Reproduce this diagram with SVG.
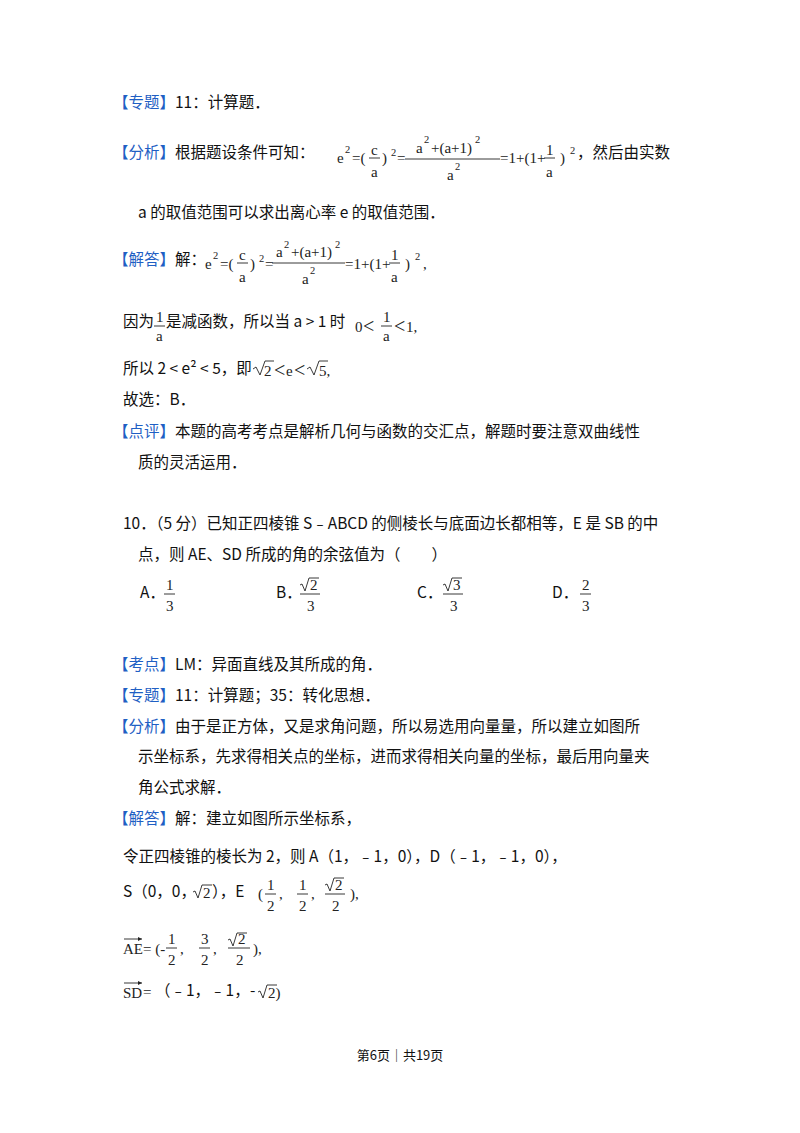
<svg xmlns="http://www.w3.org/2000/svg" width="800" height="1133" viewBox="0 0 800 1133">
<style>
text{font-family:"Noto Sans CJK SC","Noto Sans",sans-serif;font-size:15.5px;fill:#111}
.b{fill:#1f5fc4}
.m{font-family:"Liberation Serif",serif;font-size:15px;fill:#222}
.ml{font-family:"Liberation Serif",serif;font-size:20px;fill:#222}
.ms{font-family:"Liberation Serif",serif;font-size:10.5px;fill:#222}
.f{font-size:13px}
line{stroke:#222;stroke-width:0.9}
</style>
<rect width="800" height="1133" fill="#fff"/>
<text x="113" y="108"><tspan class="b">【专题】</tspan>11：计算题．</text>
<text x="113" y="158"><tspan class="b">【分析】</tspan>根据题设条件可知：</text>
<g>
<text class="m" x="337" y="163">e</text><text class="ms" x="345" y="153">2</text><text class="m" x="352" y="163">=(</text>
<text class="m" x="371" y="155">c</text><line x1="369" y1="158" x2="380" y2="158"/><text class="m" x="371" y="177">a</text>
<text class="m" x="382" y="163">)</text><text class="ms" x="391" y="156">2</text><text class="m" x="397" y="163">=</text>
<text class="m" x="416" y="153">a</text><text class="ms" x="424" y="143">2</text><text class="m" x="431" y="153">+(a+1)</text><text class="ms" x="475" y="143">2</text>
<line x1="405" y1="159" x2="500" y2="159"/>
<text class="m" x="447" y="180">a</text><text class="ms" x="455" y="170">2</text>
<text class="m" x="500" y="163">=1+(1+</text>
<text class="m" x="546" y="155">1</text><line x1="544" y1="158" x2="555" y2="158"/><text class="m" x="546" y="177">a</text>
<text class="m" x="560" y="163">)</text><text class="ms" x="570" y="154">2</text>
</g>
<text x="577" y="158">，然后由实数</text>
<text x="138" y="218">a 的取值范围可以求出离心率 e 的取值范围．</text>
<text x="113" y="265"><tspan class="b">【解答】</tspan>解：</text>
<g>
<text class="m" x="205" y="269">e</text><text class="ms" x="213" y="259">2</text><text class="m" x="220" y="269">=(</text>
<text class="m" x="239" y="260">c</text><line x1="237" y1="263" x2="248" y2="263"/><text class="m" x="239" y="282">a</text>
<text class="m" x="250" y="269">)</text><text class="ms" x="259" y="262">2</text><text class="m" x="265" y="269">=</text>
<text class="m" x="276" y="257">a</text><text class="ms" x="284" y="248">2</text><text class="m" x="291" y="257">+(a+1)</text><text class="ms" x="335" y="248">2</text>
<line x1="272" y1="263" x2="345" y2="263"/>
<text class="m" x="302" y="284">a</text><text class="ms" x="310" y="274">2</text>
<text class="m" x="345" y="269">=1+(1+</text>
<text class="m" x="391" y="260">1</text><line x1="389" y1="263" x2="400" y2="263"/><text class="m" x="391" y="282">a</text>
<text class="m" x="405" y="269">)</text><text class="ms" x="415" y="260">2</text>
<text class="m" x="423" y="269">,</text>
</g>
<text x="123" y="327">因为</text>
<text class="m" x="156" y="322">1</text><line x1="154" y1="326" x2="165" y2="326"/><text class="m" x="156" y="341">a</text>
<text x="166" y="327">是减函数，所以当 a &gt; 1 时</text>
<text class="m" x="355" y="332">0</text><text class="ml" x="363" y="333">&lt;</text>
<text class="m" x="383" y="322">1</text><line x1="381" y1="326" x2="392" y2="326"/><text class="m" x="383" y="341">a</text>
<text class="ml" x="394" y="333">&lt;</text><text class="m" x="406" y="332">1,</text>
<text x="123" y="374">所以 2 &lt; e² &lt; 5，即</text>
<g fill="none" stroke="#222" stroke-width="0.9"><path d="M253,369 l3,-2 l4,8 l5,-14 h9"/><path d="M307,369 l3,-2 l4,8 l5,-14 h9"/></g>
<text class="m" x="264" y="376">2</text><text class="ml" x="274" y="377">&lt;</text><text class="m" x="286" y="376">e</text><text class="ml" x="294" y="377">&lt;</text><text class="m" x="319" y="376">5,</text>
<text x="123" y="405">故选：B．</text>
<text x="113" y="437"><tspan class="b">【点评】</tspan>本题的高考考点是解析几何与函数的交汇点，解题时要注意双曲线性</text>
<text x="138" y="468">质的灵活运用．</text>
<text x="123" y="529">10．（5 分）已知正四棱锥 S﹣ABCD 的侧棱长与底面边长都相等，E 是 SB 的中</text>
<text x="138" y="560">点，则 AE、SD 所成的角的余弦值为（　　）</text>
<text x="140" y="598">A．</text>
<text class="m" x="166" y="590">1</text><line x1="164" y1="594" x2="175" y2="594"/><text class="m" x="166" y="611">3</text>
<text x="276" y="598">B．</text>
<path d="M300,585 l2,-1 l3,7 l4,-13 h10" fill="none" stroke="#222" stroke-width="0.9"/>
<text class="m" x="310" y="590">2</text><line x1="300" y1="594" x2="320" y2="594"/><text class="m" x="307" y="611">3</text>
<text x="417" y="598">C．</text>
<path d="M443,585 l2,-1 l3,7 l4,-13 h10" fill="none" stroke="#222" stroke-width="0.9"/>
<text class="m" x="453" y="590">3</text><line x1="443" y1="594" x2="463" y2="594"/><text class="m" x="450" y="611">3</text>
<text x="552" y="598">D．</text>
<text class="m" x="582" y="590">2</text><line x1="580" y1="594" x2="591" y2="594"/><text class="m" x="582" y="611">3</text>
<text x="113" y="670"><tspan class="b">【考点】</tspan>LM：异面直线及其所成的角．</text>
<text x="113" y="701"><tspan class="b">【专题】</tspan>11：计算题；35：转化思想．</text>
<text x="113" y="732"><tspan class="b">【分析】</tspan>由于是正方体，又是求角问题，所以易选用向量量，所以建立如图所</text>
<text x="138" y="762">示坐标系，先求得相关点的坐标，进而求得相关向量的坐标，最后用向量夹</text>
<text x="138" y="793">角公式求解．</text>
<text x="113" y="824"><tspan class="b">【解答】</tspan>解：建立如图所示坐标系，</text>
<text x="123" y="862">令正四棱锥的棱长为 2，则 A（1，﹣1，0），D（﹣1，﹣1，0），</text>
<text x="123" y="897">S（0，0，</text>
<path d="M193,892 l2,-1 l3,7 l4,-13 h10" fill="none" stroke="#222" stroke-width="0.9"/>
<text class="m" x="203" y="898">2</text><text x="212" y="897">），E</text>
<text class="m" x="258" y="899">(</text>
<text class="m" x="267" y="890">1</text><line x1="265" y1="894" x2="276" y2="894"/><text class="m" x="267" y="911">2</text>
<text class="m" x="279" y="899">,</text>
<text class="m" x="299" y="890">1</text><line x1="297" y1="894" x2="308" y2="894"/><text class="m" x="299" y="911">2</text>
<text class="m" x="311" y="899">,</text>
<path d="M325,885 l2,-1 l3,7 l4,-13 h10" fill="none" stroke="#222" stroke-width="0.9"/>
<text class="m" x="335" y="890">2</text><line x1="325" y1="894" x2="345" y2="894"/><text class="m" x="332" y="911">2</text>
<text class="m" x="350" y="899">),</text>
<text class="m" x="123" y="954">AE</text>
<path d="M124,939 h18" stroke="#222" stroke-width="0.9"/><path d="M142,939 l-4,-2 v4z" fill="#222"/>
<text class="m" x="143" y="954">= (-</text>
<text class="m" x="168" y="944">1</text><line x1="166" y1="948" x2="177" y2="948"/><text class="m" x="168" y="965">2</text>
<text class="m" x="180" y="954">,</text>
<text class="m" x="201" y="944">3</text><line x1="199" y1="948" x2="210" y2="948"/><text class="m" x="201" y="965">2</text>
<text class="m" x="213" y="954">,</text>
<path d="M228,940 l2,-1 l3,7 l4,-13 h10" fill="none" stroke="#222" stroke-width="0.9"/>
<text class="m" x="238" y="944">2</text><line x1="228" y1="948" x2="250" y2="948"/><text class="m" x="236" y="965">2</text>
<text class="m" x="253" y="954">),</text>
<text class="m" x="123" y="998">SD</text>
<path d="M124,983 h18" stroke="#222" stroke-width="0.9"/><path d="M142,983 l-4,-2 v4z" fill="#222"/>
<text class="m" x="143" y="997">=</text>
<text x="155" y="996">（﹣1，﹣1，</text>
<text x="250" y="996">-</text>
<path d="M258,992 l2,-1 l3,7 l4,-13 h10" fill="none" stroke="#222" stroke-width="0.9"/>
<text class="m" x="268" y="998">2)</text>
<text class="f" x="400" y="1060" text-anchor="middle">第6页｜共19页</text>
</svg>
